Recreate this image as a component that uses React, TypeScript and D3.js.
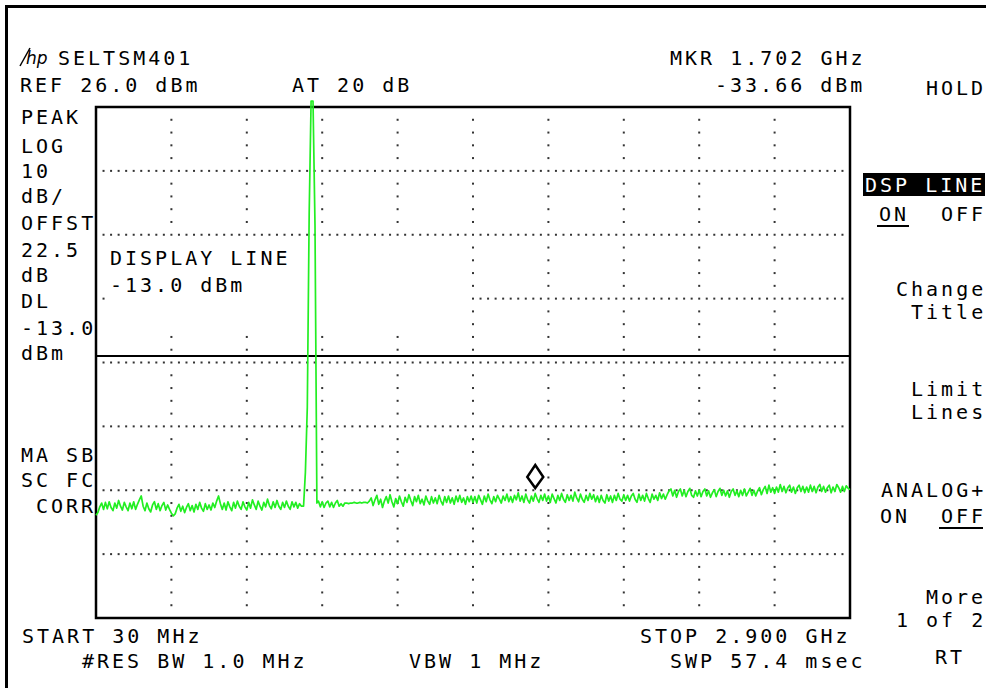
import React from 'react';
import * as d3 from 'd3';

// sweep settings
const startMHz = 30;
const stopMHz = 2900;
const refLevel = 26;
const dbPerDiv = 10;
const displayLine = -13;
const markerMHz = 1702;
const markerLevel = -33.66;

// trace noise floor, 401 samples across the sweep (dBm)
const noiseLevels = [
  -37.9, -37.5, -36.6, -36.0, -37.0, -35.9, -36.9, -35.8, -36.7, -37.2, -36.0, -36.8, -35.6, -36.5, -37.1, -35.9, -36.6, -37.2, -36.0, -36.9,
  -35.8, -37.0, -36.2, -35.5, -34.9, -36.5, -37.2, -36.0, -36.9, -37.4, -36.3, -35.8, -37.0, -36.1, -37.2, -36.4, -35.9, -37.1, -36.3, -37.0,
  -37.6, -38.0, -37.7, -36.8, -36.2, -37.3, -36.5, -37.5, -36.7, -36.1, -37.2, -36.4, -37.4, -36.2, -37.0, -35.9, -36.8, -37.3, -36.1, -37.0,
  -36.3, -37.1, -36.0, -36.7, -35.7, -34.9, -36.1, -37.0, -36.0, -37.1, -35.8, -36.6, -37.2, -35.9, -36.8, -35.7, -36.5, -37.0, -35.8, -36.6,
  -37.1, -35.9, -36.8, -35.5, -36.3, -37.0, -35.7, -36.5, -37.1, -35.9, -36.6, -35.4, -36.4, -36.9, -35.8, -36.7, -35.6, -36.5, -37.0, -35.9,
  -36.7, -35.7, -36.5, -37.0, -35.8, -36.6, -35.9, -36.8, -36.1, -36.5, -36.3, -36.3, -36.3, -36.3, -36.3, -36.3, -36.3, -36.3, -35.7, -36.6,
  -35.8, -36.7, -36.0, -35.7, -36.6, -35.9, -36.7, -36.0, -35.6, -36.5, -36.1, -36.5, -36.0, -36.0, -36.1, -36.0, -36.0, -35.9, -36.0, -36.0,
  -35.9, -36.0, -35.9, -35.9, -36.0, -35.7, -35.2, -36.4, -35.5, -34.8, -36.2, -35.4, -36.7, -35.7, -35.0, -36.0, -34.7, -35.8, -36.6, -35.3,
  -36.1, -34.9, -35.8, -36.5, -35.1, -35.9, -34.7, -35.6, -36.4, -35.0, -35.8, -34.8, -36.1, -35.4, -36.3, -34.9, -35.7, -36.2, -35.0, -36.0,
  -35.2, -36.1, -34.8, -35.7, -36.3, -35.0, -35.9, -34.9, -36.0, -35.2, -36.2, -34.9, -35.8, -34.8, -35.9, -35.2, -36.2, -35.0, -35.8, -34.9,
  -35.9, -35.0, -36.0, -34.8, -35.5, -36.2, -34.9, -35.8, -34.6, -35.5, -36.1, -35.0, -35.8, -34.8, -35.4, -36.0, -34.9, -35.6, -34.6, -35.8,
  -35.0, -35.9, -34.8, -35.5, -34.4, -35.7, -34.9, -35.9, -34.6, -35.5, -36.0, -34.9, -35.7, -34.5, -35.3, -35.9, -34.8, -35.6, -34.6, -35.7,
  -34.9, -35.9, -34.6, -35.3, -36.0, -34.8, -35.6, -34.5, -35.4, -35.9, -34.7, -35.6, -34.8, -35.7, -34.3, -35.2, -35.8, -34.6, -35.4, -35.9,
  -34.8, -35.6, -34.5, -35.4, -34.7, -35.8, -34.9, -35.9, -34.8, -35.6, -36.0, -34.7, -35.7, -34.9, -35.9, -34.8, -35.6, -34.5, -35.4, -35.7,
  -34.7, -35.6, -34.8, -35.7, -34.9, -34.5, -35.4, -35.9, -34.6, -35.6, -34.8, -35.7, -34.5, -35.3, -35.9, -34.6, -35.4, -34.8, -35.6, -34.4,
  -35.3, -34.6, -35.4, -34.7, -34.1, -33.8, -34.9, -34.0, -35.1, -34.2, -33.8, -34.9, -34.0, -35.0, -34.2, -33.7, -34.8, -35.1, -34.1, -34.9,
  -34.0, -35.0, -34.2, -33.8, -34.9, -34.1, -35.1, -34.4, -33.9, -35.0, -34.2, -33.7, -34.8, -34.0, -34.9, -34.1, -35.1, -34.2, -33.8, -34.8,
  -34.1, -35.0, -34.0, -34.8, -33.8, -34.9, -34.3, -33.7, -34.8, -34.0, -34.9, -34.1, -33.6, -34.7, -33.9, -33.4, -34.5, -33.2, -34.3, -33.6,
  -34.5, -33.5, -34.3, -33.1, -34.2, -33.4, -34.4, -33.6, -33.2, -34.3, -33.5, -34.5, -33.6, -33.2, -34.2, -33.4, -34.4, -33.5, -34.3, -33.2,
  -34.2, -33.4, -34.4, -33.5, -33.1, -34.2, -33.4, -34.3, -33.6, -33.2, -34.4, -33.5, -34.2, -33.1, -33.6, -34.3, -33.4, -34.2, -33.3, -33.7,
  -33.9,
];

// carrier near 856 MHz
const peakFreqs = [820, 827, 834.3, 841.5, 848.7, 856, 863.6, 870.8];
const peakLevels = [-36.5, -31.2, -21.0, 9.5, 30, 30, 7.5, -36.0];

const headerLines = [
  { t: 'SELTSM401', x: 58, y: 65 },
  { t: 'REF 26.0 dBm', x: 20, y: 92 },
  { t: 'AT 20 dB', x: 292, y: 92 },
  { t: 'MKR 1.702 GHz', x: 670, y: 65 },
  { t: '-33.66 dBm', x: 715, y: 92 },
];

const leftLabels = [
  { t: 'PEAK', y: 124 }, { t: 'LOG', y: 153 }, { t: '10', y: 178 },
  { t: 'dB/', y: 203 }, { t: 'OFFST', y: 230 }, { t: '22.5', y: 257 },
  { t: 'dB', y: 282 }, { t: 'DL', y: 308 }, { t: '-13.0', y: 335 },
  { t: 'dBm', y: 360 }, { t: 'MA SB', y: 462 }, { t: 'SC FC', y: 487 },
  { t: 'CORR', y: 513 },
];

const softkeys = [
  { t: 'HOLD', y: 95 },
  { t: 'Change', y: 296 }, { t: 'Title', y: 319 },
  { t: 'Limit', y: 396 }, { t: 'Lines', y: 419 },
  { t: 'ANALOG+', y: 497 },
  { t: 'More', y: 604 }, { t: '1 of 2', y: 627 },
];

const footer = [
  { t: 'START 30 MHz', x: 22, y: 643 },
  { t: 'STOP 2.900 GHz', x: 640, y: 643 },
  { t: '#RES BW 1.0 MHz', x: 82, y: 668 },
  { t: 'VBW 1 MHz', x: 409, y: 668 },
  { t: 'SWP 57.4 msec', x: 670, y: 668 },
  { t: 'RT', x: 935, y: 664 },
];

const W = 986;
const H = 688;
const left = 96, right = 850, top = 107, bottom = 618;
const adv = 15; // char advance of the screen font
const rightEdge = 983;

const font = {
  fontFamily: '"DejaVu Sans Mono", monospace',
  fontSize: 20,
  letterSpacing: 3,
};

const App = () => {
  const x = d3.scaleLinear().domain([startMHz, stopMHz]).range([left, right]);
  const y = d3.scaleLinear().domain([refLevel - 8 * dbPerDiv, refLevel]).range([bottom, top]);
  const topClip = y.invert(101);

  const step = (stopMHz - startMHz) / (noiseLevels.length - 1);
  const trace = noiseLevels
    .map((v, i) => ({ f: startMHz + i * step, v }))
    .filter(d => d.f < peakFreqs[0] - 2 || d.f > peakFreqs[peakFreqs.length - 1] + 2)
    .concat(peakFreqs.map((f, i) => ({ f, v: peakLevels[i] })))
    .sort((a, b) => a.f - b.f);

  const line = d3.line<{ f: number; v: number }>()
    .x(d => x(d.f))
    .y(d => y(Math.min(d.v, topClip)));

  // graticule dots
  const gx = d3.scaleLinear().domain([0, 100]).range([left, right]);
  const gy = d3.scaleLinear().domain([0, 40]).range([top, bottom]);
  const blank = (px: number, py: number) => px > 106 && px < 466 && py > 240 && py < 330;
  const dots: [number, number][] = [];
  d3.range(1, 8).forEach(r => {
    d3.range(1, 100).forEach(c => dots.push([gx(c), gy(r * 5)]));
  });
  d3.range(1, 10).forEach(c => {
    d3.range(1, 40).forEach(r => {
      if (r % 5 !== 0) dots.push([gx(c * 10), gy(r)]);
    });
  });

  const mx = x(markerMHz);
  const my = y(markerLevel);
  const rightStart = (t: string) => rightEdge - ((t.length - 1) * adv + 12);
  const leftEnd = (t: string) => 93 - ((t.length - 1) * adv + 12);

  return (
    <svg width={W} height={H} style={{ position: 'absolute', left: 0, top: 0, background: '#fff' }}>
      <rect width={W} height={H} fill="#fff" />
      <line x1={6.5} y1={5} x2={6.5} y2={H} stroke="#000" strokeWidth={3} />
      <line x1={5} y1={6.5} x2={W} y2={6.5} stroke="#000" strokeWidth={3} />

      {dots.filter(d => !blank(d[0], d[1])).map((d, i) => (
        <rect key={i} x={d[0] - 1} y={d[1] - 1} width={2} height={2} fill="#333" />
      ))}

      <rect x={left} y={top} width={right - left} height={bottom - top} fill="none" stroke="#000" strokeWidth={2.5} />
      <line x1={left} x2={right} y1={y(displayLine)} y2={y(displayLine)} stroke="#000" strokeWidth={2} />

      <path d={line(trace) ?? ''} fill="none" stroke="#22ee22" strokeWidth={1.7} strokeLinejoin="round" />

      <path
        d={`M${mx},${my} L${mx + 8},${my - 11} L${mx},${my - 23} L${mx - 8},${my - 11} Z`}
        fill="none" stroke="#000" strokeWidth={2.5}
      />

      <g {...font} fill="#000">
        <line x1={20} y1={66} x2={30} y2={48} stroke="#000" strokeWidth={1.5} />
        <text x={26} y={64} fontStyle="italic" fontSize={17} letterSpacing={0} fontFamily="DejaVu Sans">hp</text>

        {headerLines.map(d => <text key={d.t} x={d.x} y={d.y} xmlSpace="preserve">{d.t}</text>)}
        {leftLabels.map(d => (
          <text key={d.t} x={d.t === 'CORR' ? leftEnd(d.t) : 21} y={d.y} xmlSpace="preserve">{d.t}</text>
        ))}

        <text x={110} y={265}>DISPLAY LINE</text>
        <text x={110} y={292} xmlSpace="preserve">-13.0 dBm</text>

        <rect x={863} y={173} width={122} height={23} fill="#000" />
        <text x={865} y={192} fill="#fff" xmlSpace="preserve">DSP LINE</text>
        <text x={879} y={221}>ON</text>
        <line x1={877} x2={909} y1={226} y2={226} stroke="#000" strokeWidth={2} />
        <text x={rightStart('OFF')} y={221}>OFF</text>

        {softkeys.map(d => <text key={d.t} x={rightStart(d.t)} y={d.y} xmlSpace="preserve">{d.t}</text>)}
        <text x={880} y={523}>ON</text>
        <text x={rightStart('OFF')} y={523}>OFF</text>
        <line x1={rightStart('OFF') - 2} x2={rightEdge} y1={528} y2={528} stroke="#000" strokeWidth={2} />

        {footer.map(d => <text key={d.t} x={d.x} y={d.y} xmlSpace="preserve">{d.t}</text>)}
      </g>
    </svg>
  );
};

export default App;
